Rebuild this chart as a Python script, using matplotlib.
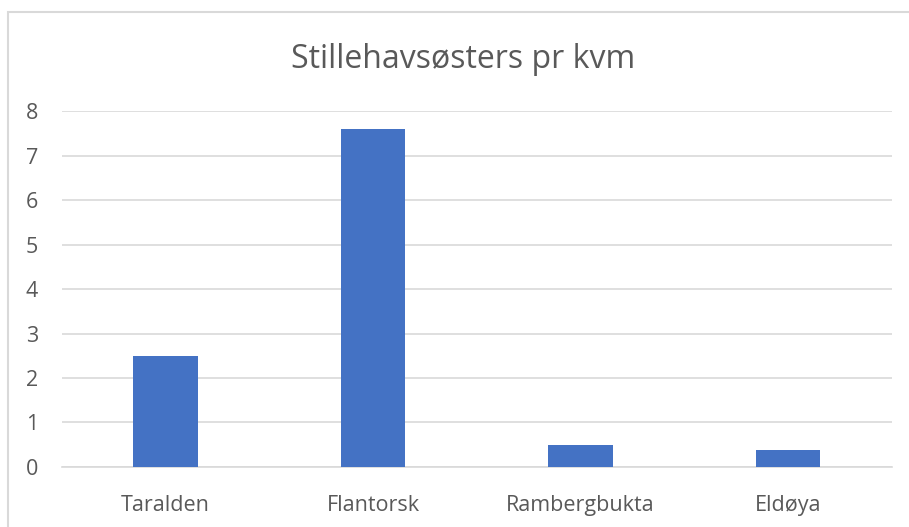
import matplotlib.pyplot as plt
from matplotlib.patches import Rectangle

# Data
steder = ['Taralden', 'Flantorsk', 'Rambergbukta', 'Eldøya']
antall = [2.5, 7.6, 0.5, 0.37]
yticks = [0, 1, 2, 3, 4, 5, 6, 7, 8]

plt.rcParams['font.family'] = ['Open Sans', 'DejaVu Sans']

fig = plt.figure(figsize=(9.09, 5.27), dpi=100)
ax = fig.add_axes([0.068, 0.114, 0.913, 0.675])

x = range(len(steder))
ax.bar(x, antall, width=0.31, color='#4472C4', zorder=3)

ax.set_xlim(-0.5, len(steder) - 0.5)
ax.set_ylim(0, 8)
ax.set_yticks(yticks)
ax.set_xticks(list(x))
ax.set_xticklabels(steder)
ax.yaxis.grid(True, color='#D9D9D9', linewidth=1.2, zorder=0)
for s in ['top', 'right', 'left']:
    ax.spines[s].set_visible(False)
ax.spines['bottom'].set_color('#D9D9D9')
ax.spines['bottom'].set_linewidth(1.2)
ax.tick_params(axis='both', length=0, labelsize=15.5, colors='#595959')
ax.tick_params(axis='x', pad=20)
ax.tick_params(axis='y', pad=17)

fig.text(0.509, 0.887, 'Stillehavsøsters pr kvm', ha='center', va='center',
         fontsize=23, color='#595959')

# ramme rundt diagrammet
fig.patches.append(Rectangle((0.009, -0.05), 1.05, 1.027, transform=fig.transFigure,
                             fill=False, edgecolor='#D9D9D9', linewidth=1.5))

fig.savefig('out.png', dpi=100)
